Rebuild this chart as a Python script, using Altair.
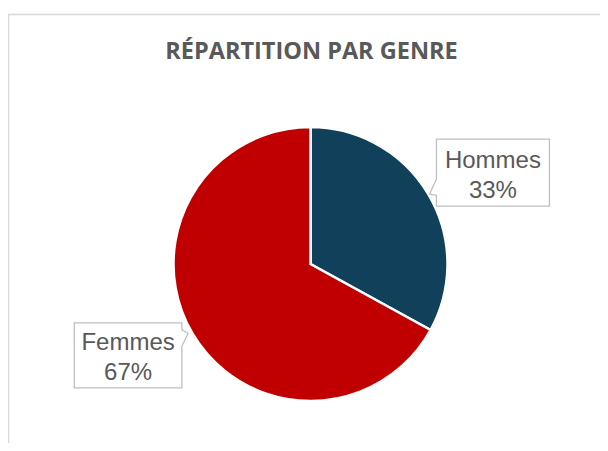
import altair as alt
import pandas as pd

# ---- data ----
genres = ["Hommes", "Femmes"]
values = [33, 67]
order = [0, 1]

colors = ["#10405A", "#C00000"]

df = pd.DataFrame({"genre": genres, "value": values, "ord": order})

W, H = 592, 435
CX, CY = 302.5, 256.0   # pie centre inside the chart
R_PIE = 137
R_LAB = 204
ROT = 0.07  # label rotation offset (rad)

base = alt.Chart(df)

pie = base.mark_arc(outerRadius=R_PIE, stroke="white", strokeWidth=2.5).encode(
    theta=alt.Theta("value:Q", stack=True),
    color=alt.Color("genre:N", scale=alt.Scale(domain=genres, range=colors), legend=None),
    order=alt.Order("ord:Q"),
    x=alt.value(CX),
    y=alt.value(CY),
)

path_h = "M-56.5,-33.5L56.5,-33.5L56.5,33.5L-56.5,33.5L-56.5,22.5L-63.5,21.5L-56.5,6.5Z"
path_f = "M-53.8,-32.5L53.8,-32.5L53.8,-25.5L60,-22L53.8,-9L53.8,32.5L-53.8,32.5Z"

lab = base.transform_joinaggregate(
    total="sum(value)"
).transform_window(
    cum="sum(value)", sort=[alt.SortField("ord")]
).transform_calculate(
    mid=f"(datum.cum - datum.value/2)/datum.total*2*PI + {ROT}",
    lx=f"{CX} + {R_LAB}*sin(datum.mid)",
    ly=f"{CY} - {R_LAB}*cos(datum.mid)",
    label="[datum.genre, format(datum.value/datum.total, '.0%')]",
    shp=f"datum.genre == 'Hommes' ? '{path_h}' : '{path_f}'",
)

boxes = lab.mark_point(
    size=4, fill="white", stroke="#BFBFBF", strokeWidth=1.3, opacity=1, fillOpacity=1
).encode(
    x=alt.X("lx:Q", scale=None, axis=None),
    y=alt.Y("ly:Q", scale=None, axis=None),
    shape=alt.Shape("shp:N", scale=None, legend=None),
)

labels = lab.mark_text(
    font="Liberation Sans", fontSize=24, color="#595959", lineHeight=30,
    align="center", baseline="middle", dy=-12,
).encode(
    x=alt.X("lx:Q", scale=None, axis=None),
    y=alt.Y("ly:Q", scale=None, axis=None),
    text=alt.Text("label:N"),
)

one = alt.Data(values=[{}])

title = alt.Chart(one).mark_text(
    text="RÉPARTITION PAR GENRE", font="Open Sans", fontSize=23.5, fontWeight="bold",
    color="#595959", align="center", baseline="alphabetic",
).encode(x=alt.value(303.5), y=alt.value(51))

frame_top = alt.Chart(one).mark_rule(color="#D9D9D9", strokeWidth=1.5).encode(
    x=alt.value(0), x2=alt.value(W), y=alt.value(6.5)
)
frame_left = alt.Chart(one).mark_rule(color="#D9D9D9", strokeWidth=1.5).encode(
    x=alt.value(0.5), y=alt.value(6), y2=alt.value(H)
)

chart = alt.layer(frame_top, frame_left, title, pie, boxes, labels).properties(
    width=W, height=H, padding=0, autosize=alt.AutoSizeParams(type="none"),
    background="white",
).configure_view(stroke=None)

chart.save("out.html", embed_options={"renderer": "svg", "actions": False})
